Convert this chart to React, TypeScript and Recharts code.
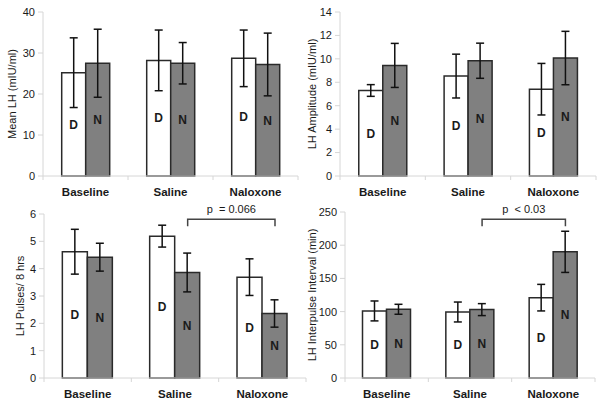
import React from 'react';
import { BarChart, Bar, XAxis, YAxis, ErrorBar, LabelList, ReferenceLine } from 'recharts';

const categories = ['Baseline', 'Saline', 'Naloxone'];

const meanLH_D = [25.2, 28.2, 28.7];
const meanLH_D_err = [8.5, 7.4, 6.9];
const meanLH_N = [27.5, 27.5, 27.2];
const meanLH_N_err = [8.3, 5.05, 7.65];

const amp_D = [7.3, 8.53, 7.41];
const amp_D_err = [0.5, 1.87, 2.2];
const amp_N = [9.44, 9.84, 10.07];
const amp_N_err = [1.88, 1.5, 2.28];

const pulses_D = [4.62, 5.19, 3.69];
const pulses_D_err = [0.82, 0.4, 0.67];
const pulses_N = [4.42, 3.86, 2.36];
const pulses_N_err = [0.51, 0.71, 0.5];

const ipi_D = [101, 99.4, 121];
const ipi_D_err = [15, 15, 20];
const ipi_N = [103.5, 103, 190];
const ipi_N_err = [7.5, 9, 31];

const ticksMean = [0, 10, 20, 30, 40];
const ticksAmp = [0, 2, 4, 6, 8, 10, 12, 14];
const ticksPulses = [0, 1, 2, 3, 4, 5, 6];
const ticksIpi = [0, 50, 100, 150, 200, 250];

// significance brackets between the N bars of two categories
const bracketPulses = { from: 'Saline', to: 'Naloxone', top: 5.81, text: 'p  = 0.066' };
const bracketIpi = { from: 'Saline', to: 'Naloxone', top: 239, text: 'p  < 0.03' };

const build = (d: number[], de: number[], n: number[], ne: number[]) =>
  categories.map((name, i) => ({ name, d: d[i], dErr: de[i], n: n[i], nErr: ne[i] }));

const AXIS = '#d6d6d6';
const INK = '#1a1a1a';
const FONT = 'Liberation Sans, Arial, sans-serif';

type PanelProps = {
  left: number; top: number; width: number; height: number;
  margin: { top: number; right: number; left: number; bottom: number };
  yWidth: number; xHeight: number; xTickMargin: number;
  data: any[]; ticks: number[]; label: string; labelOffset: number;
  gap: number;
  bracket?: { from: string; to: string; top: number; text: string };
};

function Panel(p: PanelProps) {
  const gapFrac = p.gap;
  const barFrac = (1 - 2 * gapFrac) / 2;
  const plotW = p.width - p.margin.left - p.margin.right - p.yWidth;
  const step = plotW / categories.length;
  const nShift = (step * barFrac) / 2;
  const b = p.bracket;
  const bracketShape = (props: any) => {
    const x1 = props.x1 + nShift;
    const x2 = props.x2 + nShift;
    const y = props.y1;
    const tick = 7;
    return (
      <g>
        <path d={`M${x1},${y + tick}L${x1},${y}L${x2},${y}L${x2},${y + tick}`}
          fill="none" stroke="#444" strokeWidth={1.5} />
        <text x={(x1 + x2) / 2} y={y - 6} textAnchor="middle" fontSize={11} fill={INK}
          fontFamily={FONT} xmlSpace="preserve" style={{ whiteSpace: 'pre' }}>{b ? b.text : ''}</text>
      </g>
    );
  };
  const CatTick = (props: any) => {
    const { x, y, payload, index } = props;
    const axisY = y - p.xTickMargin;
    return (
      <g>
        {index === 0 && (
          <line x1={x - step / 2} x2={x - step / 2} y1={axisY - 6} y2={axisY - 2} stroke={AXIS} />
        )}
        <line x1={x + step / 2} x2={x + step / 2} y1={axisY - 6} y2={axisY - 2} stroke={AXIS} />
        <text x={x} y={y} dy="0.71em" textAnchor="middle" fontSize={11.5} fontWeight="bold"
          fill={INK} fontFamily={FONT}>{payload.value}</text>
      </g>
    );
  };
  return (
    <div style={{ position: 'absolute', left: p.left, top: p.top }}>
      <BarChart width={p.width} height={p.height} data={p.data} margin={p.margin}
        barCategoryGap={`${gapFrac * 100}%`} barGap={0}>
        <XAxis dataKey="name" tickLine={false} height={p.xHeight} tickMargin={p.xTickMargin}
          axisLine={{ stroke: AXIS }} tick={<CatTick />} />
        <YAxis width={p.yWidth} domain={[p.ticks[0], p.ticks[p.ticks.length - 1]]} ticks={p.ticks}
          interval={0} tickSize={5} tickMargin={3}
          axisLine={{ stroke: AXIS }} tickLine={{ stroke: AXIS }}
          tick={{ fontSize: 11, fill: INK, fontFamily: FONT }}
          label={{ value: p.label, angle: -90, position: 'insideLeft', offset: p.labelOffset,
            style: { textAnchor: 'middle', fontSize: 11, fill: INK, fontFamily: FONT } }} />
        <Bar dataKey="d" fill="#ffffff" stroke="#2a2a2a" strokeWidth={1.5} isAnimationActive={false}>
          <ErrorBar dataKey="dErr" width={4} stroke="#111" strokeWidth={1.5} />
          <LabelList dataKey="d" position="center" formatter={() => 'D'}
            fill={INK} fontSize={12} fontWeight="bold" fontFamily={FONT} />
        </Bar>
        <Bar dataKey="n" fill="#808080" stroke="#2a2a2a" strokeWidth={1.5} isAnimationActive={false}>
          <ErrorBar dataKey="nErr" width={4} stroke="#111" strokeWidth={1.5} />
          <LabelList dataKey="n" position="center" formatter={() => 'N'}
            fill={INK} fontSize={12} fontWeight="bold" fontFamily={FONT} />
        </Bar>
        {b && (
          <ReferenceLine ifOverflow="visible"
            segment={[{ x: b.from, y: b.top }, { x: b.to, y: b.top }]}
            shape={bracketShape} />
        )}
      </BarChart>
    </div>
  );
}

export default function App() {
  return (
    <div style={{ position: 'absolute', left: 0, top: 0, width: 600, height: 406, background: '#fff', overflow: 'hidden' }}>
      <Panel left={0} top={0} width={300} height={200}
        margin={{ top: 12, right: 2, left: 0, bottom: 0 }} yWidth={43} xHeight={24} xTickMargin={6}
        data={build(meanLH_D, meanLH_D_err, meanLH_N, meanLH_N_err)} ticks={ticksMean}
        label="Mean LH (mIU/ml)" labelOffset={12} gap={0.22} />
      <Panel left={300} top={0} width={300} height={200}
        margin={{ top: 12, right: 4, left: 0, bottom: 0 }} yWidth={40} xHeight={24} xTickMargin={6}
        data={build(amp_D, amp_D_err, amp_N, amp_N_err)} ticks={ticksAmp}
        label="LH Amplitude (mIU/ml)" labelOffset={12} gap={0.22} />
      <Panel left={0} top={195} width={310} height={211}
        margin={{ top: 19, right: 4, left: 0, bottom: 0 }} yWidth={44} xHeight={28} xTickMargin={5.5}
        data={build(pulses_D, pulses_D_err, pulses_N, pulses_N_err)} ticks={ticksPulses}
        label="LH Pulses/ 8 hrs" labelOffset={20} gap={0.21} bracket={bracketPulses} />
      <Panel left={300} top={195} width={300} height={211}
        margin={{ top: 17, right: 5, left: 0, bottom: 0 }} yWidth={45} xHeight={28} xTickMargin={5.5}
        data={build(ipi_D, ipi_D_err, ipi_N, ipi_N_err)} ticks={ticksIpi}
        label="LH Interpulse Interval (min)" labelOffset={12} gap={0.21} bracket={bracketIpi} />
    </div>
  );
}
